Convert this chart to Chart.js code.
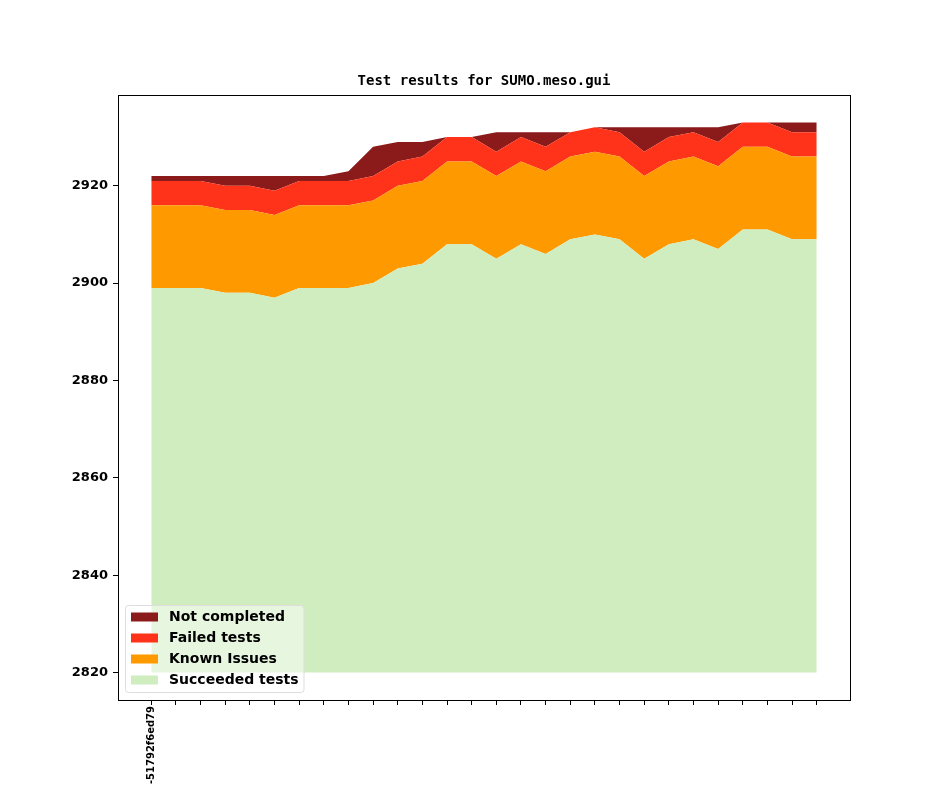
<!DOCTYPE html>
<html>
<head>
<meta charset="utf-8">
<script src="https://cdn.jsdelivr.net/npm/chart.js@4.4.0/dist/chart.umd.min.js"></script>
<style>
html,body{margin:0;padding:0;background:#fff;}
#wrap{width:944px;height:787px;position:relative;}
</style>
</head>
<body>
<div id="wrap"><canvas id="c" width="944" height="787"></canvas></div>
<script>
const labels = ["-51792f6ed79","","","","","","","","","","","","","","","","","","","","","","","","","","",""];
const succeeded = [2899,2899,2899,2898,2898,2897,2899,2899,2899,2900,2903,2904,2908,2908,2905,2908,2906,2909,2910,2909,2905,2908,2909,2907,2911,2911,2909,2909];
const knownIssues = [17,17,17,17,17,17,17,17,17,17,17,17,17,17,17,17,17,17,17,17,17,17,17,17,17,17,17,17];
const failed = [5,5,5,5,5,5,5,5,5,5,5,5,5,5,5,5,5,5,5,5,5,5,5,5,5,5,5,5];
const notCompleted = [1,1,1,2,2,3,1,1,2,6,4,3,0,0,4,1,3,0,0,1,5,2,1,3,0,0,2,2];
const yTicks = [2820,2840,2860,2880,2900,2920];
const baseline = 2820;
const titleText = 'Test results for SUMO.meso.gui';

const seriesNames = ["Succeeded tests","Known Issues","Failed tests","Not completed"];
const seriesColors = ["#cfedbf","#ff9900","#ff3319","#8b1a1a"];
const seriesData = [succeeded, knownIssues, failed, notCompleted];

const toPts = arr => arr.map((v,i)=>({x:i,y:v}));

const datasets = seriesData.map((arr,k)=>({
  label: seriesNames[k],
  data: toPts(arr),
  backgroundColor: seriesColors[k],
  borderColor: seriesColors[k],
  borderWidth: 0,
  pointRadius: 0,
  tension: 0,
  fill: k===0 ? {value: baseline} : '-1'
}));

const frameAndLegend = {
  id: 'frameAndLegend',
  afterDraw(chart){
    const ctx = chart.ctx;
    const a = chart.chartArea;
    ctx.save();
    ctx.strokeStyle = '#000';
    ctx.lineWidth = 1;
    ctx.strokeRect(Math.round(a.left)+0.5, Math.round(a.top)+0.5, Math.round(a.right-a.left), Math.round(a.bottom-a.top));
    // title
    ctx.fillStyle = '#000';
    ctx.font = 'bold 14px "DejaVu Sans Mono"';
    ctx.textAlign = 'center';
    ctx.textBaseline = 'middle';
    ctx.fillText(titleText, (a.left + a.right)/2, a.top - 14);
    // legend
    const bx = a.left + 7.5, by = a.bottom - 94.5, bw = 178.5, bh = 87;
    const r = 3;
    ctx.beginPath();
    ctx.moveTo(bx+r,by);
    ctx.lineTo(bx+bw-r,by); ctx.quadraticCurveTo(bx+bw,by,bx+bw,by+r);
    ctx.lineTo(bx+bw,by+bh-r); ctx.quadraticCurveTo(bx+bw,by+bh,bx+bw-r,by+bh);
    ctx.lineTo(bx+r,by+bh); ctx.quadraticCurveTo(bx,by+bh,bx,by+bh-r);
    ctx.lineTo(bx,by+r); ctx.quadraticCurveTo(bx,by,bx+r,by);
    ctx.closePath();
    ctx.fillStyle = 'rgba(255,255,255,0.5)';
    ctx.fill();
    ctx.strokeStyle = '#dddddd';
    ctx.stroke();
    ctx.font = 'bold 14px "DejaVu Sans"';
    ctx.textBaseline = 'middle';
    ctx.textAlign = 'left';
    for (let i=0;i<4;i++){
      const k = 3-i;
      const cy = by + 11.5 + i*21;
      ctx.fillStyle = seriesColors[k];
      ctx.fillRect(bx+5.5, cy-4.5, 27, 9);
      ctx.fillStyle = '#000';
      ctx.fillText(seriesNames[k], bx+43.5, cy+0.5);
    }
    ctx.restore();
  }
};

new Chart(document.getElementById('c'), {
  type: 'line',
  data: { datasets },
  options: {
    responsive: false,
    animation: false,
    devicePixelRatio: 1,
    layout: { padding: { left: 0, right: 94, top: 95, bottom: 0 } },
    plugins: {
      legend: { display: false },
      tooltip: { enabled: false },
      title: { display: false }
    },
    scales: {
      x: {
        type: 'linear',
        min: -1.35,
        max: 28.35,
        afterBuildTicks: s => { s.ticks = labels.map((_,i)=>({value:i})); },
        afterFit: s => { s.height = 87; },
        ticks: {
          autoSkip: false,
          minRotation: 90, maxRotation: 90,
          padding: 1,
          color: '#000',
          font: { family: '"DejaVu Sans"', size: 10, weight: 'bold' },
          callback: v => labels[v]
        },
        grid: { display: true, drawOnChartArea: false, drawTicks: true, tickLength: 5, color: '#000' },
        border: { display: true, color: '#000', width: 1 }
      },
      y: {
        type: 'linear',
        stacked: true,
        min: 2814.35,
        max: 2938.65,
        afterBuildTicks: s => { s.ticks = yTicks.map(v=>({value:v})); },
        afterFit: s => { s.width = 118; },
        ticks: {
          padding: 5,
          color: '#000',
          font: { family: '"DejaVu Sans"', size: 13, weight: 'bold' },
          callback: v => String(v)
        },
        grid: { display: true, drawOnChartArea: false, drawTicks: true, tickLength: 5, color: '#000' },
        border: { display: true, color: '#000', width: 1 }
      }
    }
  },
  plugins: [frameAndLegend]
});
</script>
</body>
</html>
